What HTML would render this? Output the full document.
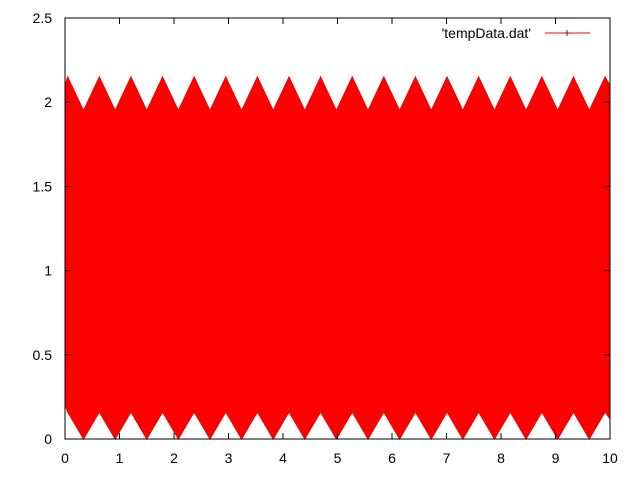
<!DOCTYPE html>
<html><head><meta charset="utf-8"><style>
body{margin:0;background:#fff;}
svg text{font-family:"Liberation Sans",sans-serif;font-size:14px;fill:#000;}
</style></head><body>
<svg id="c" width="640" height="480">
<g id="plot"></g>
<rect x="65" y="18" width="545" height="421" fill="none" stroke="#000" stroke-width="1"/>
<g id="axes"></g>
<g>
<text x="531" y="38" text-anchor="end">'tempData.dat'</text>
<line x1="545" y1="33" x2="590" y2="33" stroke="#f00" stroke-width="1"/>
<path d="M564,33h6M567,30v6" stroke="#a00"/>
</g>
</svg>
<script>
const envX=[0,0.05,0.34,0.63,0.92,1.21,1.50,1.79,2.08,2.37,2.66,2.95,3.24,3.53,3.82,4.11,4.40,4.69,4.98,5.27,5.56,5.85,6.14,6.43,6.72,7.01,7.30,7.59,7.88,8.17,8.46,8.75,9.04,9.33,9.62,9.91,10];
const envTop=[2.1,2.15,1.95,2.15,1.95,2.15,1.95,2.15,1.95,2.15,1.95,2.15,1.95,2.15,1.95,2.15,1.95,2.15,1.95,2.15,1.95,2.15,1.95,2.15,1.95,2.15,1.95,2.15,1.95,2.15,1.95,2.15,1.95,2.15,1.95,2.15,2.1];
const envBot=[0.2,0.16,0,0.16,0,0.16,0,0.16,0,0.16,0,0.16,0,0.16,0,0.16,0,0.16,0,0.16,0,0.16,0,0.16,0,0.16,0,0.16,0,0.16,0,0.16,0,0.16,0,0.16,0.12];
const xTicks=[0,1,2,3,4,5,6,7,8,9,10];
const yTicks=[0,0.5,1,1.5,2,2.5];
const yLabels=["0","0.5","1","1.5","2","2.5"];
const NS="http://www.w3.org/2000/svg";
const X=v=>65+v*54.5, Y=v=>439-v*168.4;
const plot=document.getElementById('plot'), axes=document.getElementById('axes');
let d="M"+envX.map((x,i)=>X(x)+","+Y(envTop[i])).join("L");
for(let i=envX.length-1;i>=0;i--) d+="L"+X(envX[i])+","+Y(envBot[i]);
d+="Z";
const p=document.createElementNS(NS,'path');
p.setAttribute('d',d);p.setAttribute('fill','#f00');p.setAttribute('stroke','#e00');


plot.appendChild(p);
xTicks.forEach(t=>{
  const l=document.createElementNS(NS,'path');
  l.setAttribute('d',`M${X(t)},439v-6M${X(t)},18v6`);l.setAttribute('stroke','#000');
  
  
  axes.appendChild(l);
  const tx=document.createElementNS(NS,'text');
  tx.setAttribute('x',X(t));tx.setAttribute('y',463);tx.setAttribute('text-anchor','middle');
  tx.textContent=t;
  
  
  axes.appendChild(tx);
});
yTicks.forEach((t,i)=>{
  const l=document.createElementNS(NS,'path');
  l.setAttribute('d',`M65,${Y(t)}h6M610,${Y(t)}h-6`);l.setAttribute('stroke','#000');
  
  
  axes.appendChild(l);
  const tx=document.createElementNS(NS,'text');
  tx.setAttribute('x',52);tx.setAttribute('y',Y(t)+5);tx.setAttribute('text-anchor','end');
  tx.textContent=yLabels[i];
  
  
  axes.appendChild(tx);
});
</script>
</body></html>
